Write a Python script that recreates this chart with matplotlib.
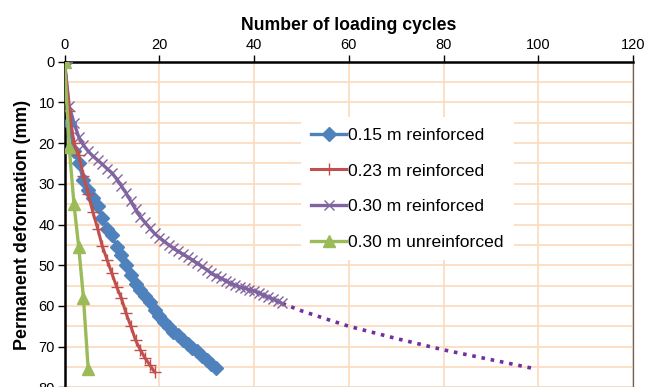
import numpy as np
import matplotlib
matplotlib.use('Agg')
import matplotlib.pyplot as plt
from matplotlib.ticker import MultipleLocator

plt.rcParams['font.family'] = ['Liberation Sans', 'DejaVu Sans']

# 数据
cyc_015 = list(range(0, 33))
def_015 = [0, 15, 22, 25, 29, 31.5, 33.5, 35.5, 38.5, 41, 42.5, 45.5, 47.5, 50,
           52.5, 54.5, 56, 57.5, 59, 61, 62.5, 64, 65.2, 66.3, 67.2, 68.3, 69.3,
           70.3, 71.2, 72.2, 73.2, 74.2, 75.3]

cyc_023 = list(range(0, 20))
def_023 = [0, 12, 20, 23, 28, 32.5, 37, 41, 45.4, 48.7, 52, 55.3, 58.1, 61.8,
           65, 68.4, 70.8, 72.8, 74.5, 76.2]

cyc_030 = list(range(0, 47))
def_030 = [0, 11, 15, 18.5, 20.5, 22, 23.2, 24.2, 25.2, 26.3, 27.3, 28.8, 30.5,
           32.3, 34.3, 36.3, 38.1, 39.5, 40.9, 42.2, 43.2, 44.1, 45, 45.8, 46.6,
           47.3, 48, 48.7, 49.5, 50.3, 51.1, 52, 52.6, 53.2, 53.8, 54.4, 54.9,
           55.3, 55.7, 56, 56.3, 56.8, 57.3, 57.8, 58.3, 58.9, 59.4]

# 0.30 m reinforced 外推趋势线
cyc_trend = [46, 50, 56, 60, 70, 80, 90, 99.5]
def_trend = [59.4, 61.2, 63.5, 65, 68, 70.8, 73.2, 75.5]

cyc_unr = [0, 1, 2, 3, 4, 5]
def_unr = [0, 21, 35, 45.5, 58, 75.5]

# 绘图
fig = plt.figure(figsize=(6.61, 3.87), dpi=100)
ax = fig.add_axes([64.5 / 661, -0.3 / 387, 568.5 / 661, 325.6 / 387])

grid_c = '#FCD9BC'
ax.set_xlim(0, 120)
ax.set_ylim(80, 0)
ax.xaxis.set_major_locator(MultipleLocator(20))
ax.yaxis.set_major_locator(MultipleLocator(10))
ax.yaxis.set_minor_locator(MultipleLocator(5))
ax.grid(True, which='major', color=grid_c, lw=1.2, zorder=0)
ax.grid(True, which='minor', axis='y', color=grid_c, lw=1.2, zorder=0)
ax.set_axisbelow(True)

ax.xaxis.tick_top()
ax.xaxis.set_label_position('top')
ax.tick_params(axis='both', which='major', direction='out', length=5,
               width=1, labelsize=10.5, pad=2)
ax.tick_params(axis='y', which='minor', length=0)
ax.tick_params(axis='x', which='major', bottom=False)

ax.spines['top'].set_linewidth(1.8)
ax.spines['left'].set_linewidth(1.8)
ax.spines['right'].set_color('#6a5f5a')
ax.spines['right'].set_linewidth(0.9)
ax.spines['bottom'].set_color('#a0a0a0')

ax.plot(cyc_trend, def_trend, color='#7030A0', lw=2.6, ls=(0, (1, 1.6)),
        zorder=2)
ax.plot(cyc_030, def_030, color='#8064A2', lw=2.4, marker='x', ms=7.5, mew=1,
        label='0.30 m reinforced', zorder=3)
ax.plot(cyc_015, def_015, color='#4F81BD', lw=2.4, marker='D', ms=7,
        label='0.15 m reinforced', zorder=4)
ax.plot(cyc_023, def_023, color='#C0504D', lw=2.2, marker='+', ms=8, mew=1,
        label='0.23 m reinforced', zorder=5)
ax.plot(cyc_unr, def_unr, color='#9BBB59', lw=2.4, marker='^', ms=8,
        label='0.30 m unreinforced', zorder=6)

ax.set_xlabel('Number of loading cycles', fontsize=12.7, fontweight='bold',
              labelpad=6)
ax.set_ylabel('Permanent deformation (mm)', fontsize=12.9, fontweight='bold',
              labelpad=5)

handles, labels = ax.get_legend_handles_labels()
order = [1, 2, 0, 3]
leg = ax.legend([handles[i] for i in order], [labels[i] for i in order],
                loc='upper left', bbox_to_anchor=(0.416, 0.83),
                borderaxespad=0, fontsize=12.6, frameon=True, fancybox=False,
                framealpha=1, edgecolor='none', handlelength=2.0,
                handletextpad=0.1, labelspacing=1.17, borderpad=0.6)

fig.savefig('out.png', dpi=100)
